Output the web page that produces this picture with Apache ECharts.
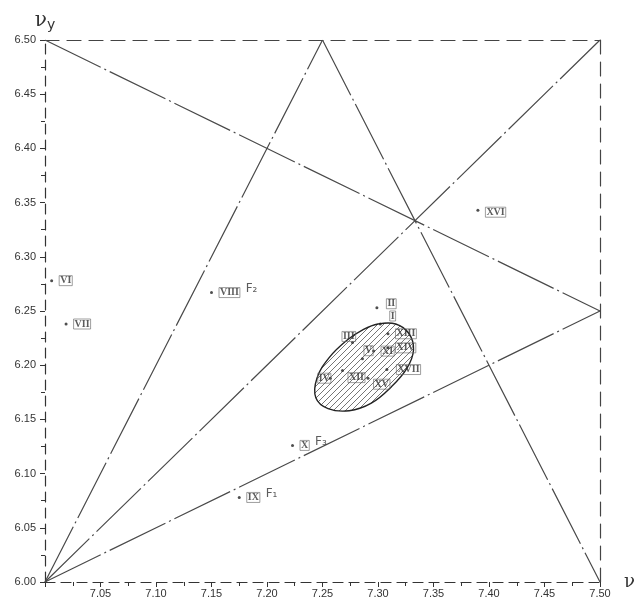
<!DOCTYPE html>
<html>
<head>
<meta charset="utf-8">
<script src="https://cdn.jsdelivr.net/npm/echarts@6/dist/echarts.min.js"></script>
<style>
html,body{margin:0;padding:0;background:#fff;}
#tu_1{width:642px;height:604px;}
</style>
</head>
<body>
<div id="tu_1"></div>
<script>
// tick labels / range
var xMin = 7.00, xMax = 7.50, xStep = 0.05;
var yMin = 6.00, yMax = 6.50, yStep = 0.05;

// measured points (name, nu, nu_y)
var ptNames = ['I','II','III','IV','V','VI','VII','VIII','IX','X','XI','XII','XIII','XIV','XV','XVI','XVII'];
var ptX = [7.302, 7.299, 7.277, 7.257, 7.286, 7.006, 7.019, 7.150, 7.175, 7.223, 7.296, 7.268, 7.309, 7.309, 7.291, 7.390, 7.308];
var ptY = [6.238, 6.253, 6.221, 6.188, 6.206, 6.278, 6.238, 6.267, 6.078, 6.126, 6.213, 6.195, 6.229, 6.216, 6.188, 6.343, 6.196];
var ptTag = ['', '', '', '', '', '', '', 'F₂', 'F₁', 'F₃', '', '', '', '', '', '', ''];

// construction lines (start / end)
var lineX1 = [7.00, 7.25, 7.00, 7.00, 7.00];
var lineY1 = [6.00, 6.50, 6.50, 6.00, 6.00];
var lineX2 = [7.25, 7.50, 7.50, 7.50, 7.50];
var lineY2 = [6.50, 6.00, 6.25, 6.50, 6.25];

// outline of hatched region
var regX = [7.300, 7.316, 7.328, 7.332, 7.326, 7.312, 7.294, 7.274, 7.255, 7.244, 7.245, 7.256, 7.272, 7.287];
var regY = [6.238, 6.238, 6.229, 6.214, 6.197, 6.180, 6.165, 6.158, 6.160, 6.170, 6.188, 6.207, 6.223, 6.233];

// label placement (style only)
var labPos = {
	'I':[6,-8],'II':[6,-4],'III':[-14,-6],'IV':[-16,0],'V':[-2,-8],'VI':[4,0],'VII':[4,0],'VIII':[4,0],
	'IX':[4,0],'X':[4,0],'XI':[4,0],'XII':[2,7],'XIII':[4,0],'XIV':[4,0],'XV':[2,6],'XVI':[4,2],'XVII':[6,0]
};

var myChart_1 = echarts.init(document.getElementById('tu_1'));

// hatch pattern
var hc = document.createElement('canvas');
hc.width = 6; hc.height = 6;
var hctx = hc.getContext('2d');
hctx.strokeStyle = '#666';
hctx.lineWidth = 0.9;
hctx.beginPath();
hctx.moveTo(0,6); hctx.lineTo(6,0);
hctx.moveTo(-3,3); hctx.lineTo(3,-3);
hctx.moveTo(3,9); hctx.lineTo(9,3);
hctx.stroke();

var dashDot = [62, 4, 2, 4];
var lineSeries = [];
for (var i = 0; i < lineX1.length; i++) {
	lineSeries.push({
		type: 'line',
		data: [[lineX1[i], lineY1[i]], [lineX2[i], lineY2[i]]],
		symbol: 'none',
		silent: true,
		z: 2,
		lineStyle: {color: '#4a4a4a', width: 1.2, type: dashDot}
	});
}

var pts = [];
for (var i = 0; i < ptNames.length; i++) {
	var n = ptNames[i];
	pts.push({
		value: [ptX[i], ptY[i]],
		name: n,
		tag: ptTag[i],
		label: {offset: labPos[n]}
	});
}

var fmt = function (v) {
	return v.toFixed(2);
};

var axLabel = {color: '#333', fontSize: 11, fontFamily: 'Liberation Sans Narrow, Liberation Sans, sans-serif'};

var option = {
	animation: false,
	backgroundColor: '#fff',
	grid: {left: 45, right: 42, top: 40, bottom: 22},
	xAxis: [{
		type: 'value', min: xMin, max: xMax, interval: xStep,
		name: 'ν', nameLocation: 'end', nameGap: 24,
		nameTextStyle: {fontSize: 18, color: '#333', fontFamily: 'DejaVu Serif', verticalAlign: 'middle'},
		axisLine: {onZero: false, lineStyle: {color: '#333', width: 1.2, type: [10, 6]}},
		axisTick: {show: true, length: 5, lineStyle: {color: '#333'}},
		minorTick: {show: true, splitNumber: 2, length: 4, lineStyle: {color: '#333'}},
		axisLabel: Object.assign({margin: 6, formatter: function (v) { return v <= xMin ? '' : fmt(v); }}, axLabel),
		splitLine: {show: false}
	}, {
		type: 'value', min: xMin, max: xMax, position: 'top',
		axisLine: {onZero: false, lineStyle: {color: '#444', width: 1.2, type: [14, 8]}},
		axisTick: {show: false}, axisLabel: {show: false}, splitLine: {show: false}
	}],
	yAxis: [{
		type: 'value', min: yMin, max: yMax, interval: yStep,
		name: '{a|ν}{b|y}', nameLocation: 'end', nameGap: 8,
		nameTextStyle: {
			align: 'center',
			rich: {
				a: {fontSize: 20, color: '#333', fontFamily: 'DejaVu Serif'},
				b: {fontSize: 14, color: '#333', fontFamily: 'DejaVu Sans', padding: [8, 0, 0, 0]}
			}
		},
		axisLine: {onZero: false, lineStyle: {color: '#333', width: 1.2, type: [10, 6]}},
		axisTick: {show: true, length: 5, lineStyle: {color: '#333'}},
		minorTick: {show: true, splitNumber: 2, length: 4, lineStyle: {color: '#333'}},
		axisLabel: Object.assign({margin: 9, formatter: function (v) { return fmt(v); }}, axLabel),
		splitLine: {show: false}
	}, {
		type: 'value', min: yMin, max: yMax, position: 'right',
		axisLine: {onZero: false, lineStyle: {color: '#444', width: 1.2, type: [14, 8]}},
		axisTick: {show: false}, axisLabel: {show: false}, splitLine: {show: false}
	}],
	series: lineSeries.concat([
		{
			type: 'custom',
			silent: true,
			z: 3,
			data: regX.map(function (x, i) { return [x, regY[i]]; }),
			renderItem: function (params, api) {
				if (params.dataIndex !== 0) return;
				var p = regX.map(function (x, i) { return api.coord([x, regY[i]]); });
				return {
					type: 'polygon',
					shape: {points: p, smooth: 0.4},
					style: {fill: {image: hc, repeat: 'repeat'}, stroke: '#222', lineWidth: 1.4}
				};
			}
		},
		{
			type: 'scatter',
			z: 5,
			symbol: 'circle',
			symbolSize: 3,
			itemStyle: {color: '#222'},
			data: pts,
			label: {
				show: true,
				position: 'right',
				distance: 2,
				formatter: function (p) {
					return '{r|' + p.name + '}' + (p.data.tag ? '{f| ' + p.data.tag + '}' : '');
				},
				rich: {
					r: {fontSize: 10, fontWeight: 'bold', color: '#333', fontFamily: 'Liberation Serif, serif',
						borderColor: '#666', borderWidth: 0.8, padding: [0, 1]},
					f: {fontSize: 12, color: '#333', fontFamily: 'DejaVu Sans', padding: [0, 0, 8, 2]}
				}
			}
		}
	])
};
myChart_1.setOption(option);
</script>
</body>
</html>
